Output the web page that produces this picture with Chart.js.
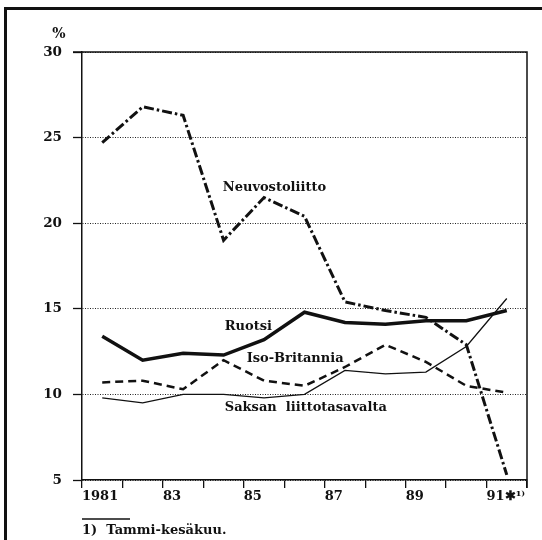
<!DOCTYPE html>
<html>
<head>
<meta charset="utf-8">
<script src="https://cdn.jsdelivr.net/npm/chart.js@4.4.0/dist/chart.umd.min.js"></script>
<style>
  body { margin: 0; background: #fff; }
  #frame { position: absolute; left: 4px; top: 7px; width: 560px; height: 560px;
           border-top: 3px solid #111; border-left: 3px solid #111; }
  #wrap { position: absolute; left: 0; top: 0; }
</style>
</head>
<body>
<div id="frame"></div>
<div id="wrap"><canvas id="myChart" width="542" height="540"></canvas></div>
<script>
// data
const years = [1981, 1982, 1983, 1984, 1985, 1986, 1987, 1988, 1989, 1990, 1991];
const neuvostoliitto = [24.7, 26.8, 26.3, 19.0, 21.5, 20.4, 15.4, 14.9, 14.5, 12.9, 5.3];
const ruotsi = [13.4, 12.0, 12.4, 12.3, 13.2, 14.8, 14.2, 14.1, 14.3, 14.3, 14.9];
const isoBritannia = [10.7, 10.8, 10.3, 12.0, 10.8, 10.5, 11.6, 12.9, 11.9, 10.5, 10.1];
const saksa = [9.8, 9.5, 10.0, 10.0, 9.8, 10.0, 11.4, 11.2, 11.3, 12.8, 15.6];
const xTickLabels = { 1981: "1981", 1983: "83", 1985: "85", 1987: "87", 1989: "89", 1991: "91\u2731\u00b9\u207e" };
const yTicks = [5, 10, 15, 20, 25, 30];
const footnote = "1)  Tammi-kes\u00e4kuu.";

// series name labels, placed in data units
const seriesLabels = [
  { text: "Neuvostoliitto", x: 1984.48, y: 22.1 },
  { text: "Ruotsi", x: 1984.53, y: 13.95 },
  { text: "Iso-Britannia", x: 1985.07, y: 12.07 },
  { text: "Saksan  liittotasavalta", x: 1984.53, y: 9.2 },
];

const FONT = "'DejaVu Serif', 'Liberation Serif', serif";
Chart.defaults.font.family = FONT;
Chart.defaults.font.weight = "bold";
Chart.defaults.color = "#111";

function pts(values) {
  return values.map((v, i) => ({ x: years[i] + 0.5, y: v }));
}

const extras = {
  id: "extras",
  afterDraw(chart) {
    const { ctx, chartArea: a, scales } = chart;
    ctx.save();
    ctx.strokeStyle = "#111";
    ctx.lineWidth = 1.5;
    ctx.beginPath();
    ctx.moveTo(a.left - 9, a.top);
    ctx.lineTo(a.right, a.top);
    ctx.lineTo(a.right, a.bottom + 8);
    ctx.stroke();

    ctx.fillStyle = "#111";
    ctx.font = "bold 13px " + FONT;
    ctx.textBaseline = "middle";
    ctx.textAlign = "left";
    seriesLabels.forEach((l) => {
      ctx.fillText(l.text, scales.x.getPixelForValue(l.x), scales.y.getPixelForValue(l.y));
    });

    ctx.textAlign = "center";
    ctx.font = "bold 14px " + FONT;
    ctx.fillText("%", a.left - 23, a.top - 18);

    // footnote
    ctx.font = "bold 13px " + FONT;
    ctx.lineWidth = 1.5;
    ctx.beginPath();
    ctx.moveTo(a.left, a.bottom + 39);
    ctx.lineTo(a.left + 48, a.bottom + 39);
    ctx.stroke();
    ctx.textAlign = "left";
    ctx.fillText(footnote, a.left, a.bottom + 51);
    ctx.restore();
  },
};

const ctx = document.getElementById("myChart").getContext("2d");
const myChart = new Chart(ctx, {
  type: "line",
  data: {
    datasets: [
      { label: "Neuvostoliitto", data: pts(neuvostoliitto), borderColor: "#111", borderWidth: 3, borderDash: [10, 3, 2.5, 3] },
      { label: "Ruotsi", data: pts(ruotsi), borderColor: "#111", borderWidth: 3.5 },
      { label: "Iso-Britannia", data: pts(isoBritannia), borderColor: "#111", borderWidth: 2.5, borderDash: [8, 5] },
      { label: "Saksan liittotasavalta", data: pts(saksa), borderColor: "#111", borderWidth: 1.3 },
    ],
  },
  options: {
    responsive: false,
    animation: false,
    layout: { padding: { left: 0, top: 52, right: 15, bottom: 0 } },
    elements: { point: { radius: 0 }, line: { tension: 0, borderCapStyle: "butt" } },
    plugins: { legend: { display: false }, tooltip: { enabled: false } },
    scales: {
      x: {
        type: "linear",
        min: 1981,
        max: 1992,
        afterFit: (s) => { s.height = 60; },
        grid: { drawOnChartArea: false, tickLength: 8, color: "#111", lineWidth: 1.3 },
        border: { color: "#111", width: 1.5 },
        ticks: {
          stepSize: 1,
          autoSkip: false,
          maxRotation: 0,
          align: "start",
          padding: 1,
          font: { size: 13, weight: "bold" },
          callback: (v) => xTickLabels[v] || "",
        },
      },
      y: {
        min: 5,
        max: 30,
        afterFit: (s) => { s.width = 82; },
        afterBuildTicks: (s) => { s.ticks = yTicks.map((v) => ({ value: v })); },
        grid: {
          color: "#222",
          lineWidth: 1,
          tickLength: 9,
          tickColor: "#111",
          tickWidth: 1.3,
        },
        border: { color: "#111", width: 1.5, dash: [1, 1.5] },
        ticks: { padding: 11, font: { size: 13.5, weight: "bold" } },
      },
    },
  },
  plugins: [extras],
});
</script>
</body>
</html>
